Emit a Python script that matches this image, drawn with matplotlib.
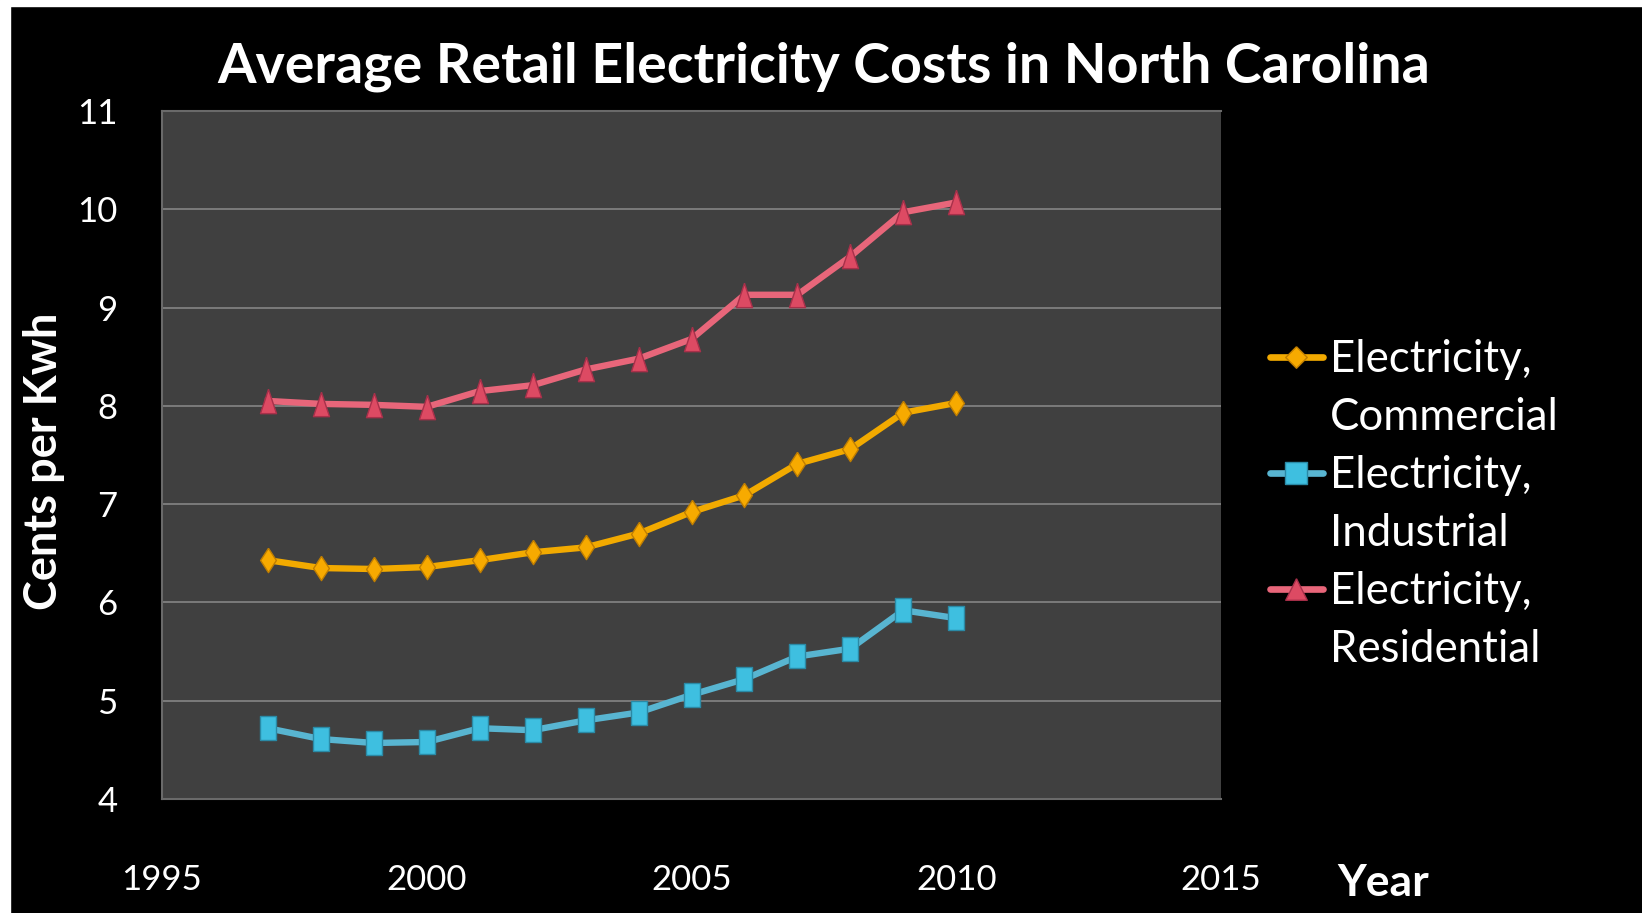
import matplotlib
matplotlib.use("Agg")
import matplotlib.pyplot as plt
from matplotlib.lines import Line2D
from matplotlib.patches import Rectangle

plt.rcParams['font.family'] = ['Lato', 'DejaVu Sans']

# data (cents per kWh)
years = [1997, 1998, 1999, 2000, 2001, 2002, 2003, 2004, 2005, 2006, 2007, 2008, 2009, 2010]
commercial = [6.43, 6.35, 6.34, 6.36, 6.43, 6.51, 6.56, 6.70, 6.92, 7.09, 7.41, 7.56, 7.93, 8.03]
industrial = [4.72, 4.61, 4.57, 4.58, 4.72, 4.70, 4.80, 4.88, 5.06, 5.22, 5.45, 5.53, 5.92, 5.84]
residential = [8.05, 8.02, 8.01, 7.99, 8.15, 8.21, 8.37, 8.48, 8.68, 9.13, 9.13, 9.52, 9.97, 10.07]

labels = [("Electricity,", "Commercial"), ("Electricity,", "Industrial"), ("Electricity,", "Residential")]
xticks = [1995, 2000, 2005, 2010, 2015]
yticks = [4, 5, 6, 7, 8, 9, 10, 11]

W, H = 1642, 913

# narrow marker shapes used in the plot area
diamond = [(0, 1), (0.65, 0), (0, -1), (-0.65, 0), (0, 1)]
square = [(-0.62, -1), (0.62, -1), (0.62, 1), (-0.62, 1), (-0.62, -1)]
triangle = [(0, 1), (0.66, -1), (-0.66, -1), (0, 1)]
# regular ones for the legend
diamond_l = [(0, 1), (1, 0), (0, -1), (-1, 0), (0, 1)]
square_l = [(-1, -1), (1, -1), (1, 1), (-1, 1), (-1, -1)]
triangle_l = [(0, 1), (1, -1), (-1, -1), (0, 1)]

series = [
    (commercial, "#F2AA00", "#F7AA00", "#C07E00", diamond, diamond_l),
    (industrial, "#58B5D1", "#3EBFE0", "#2A8AA6", square, square_l),
    (residential, "#E8667A", "#DD4A63", "#A8304A", triangle, triangle_l),
]

fig = plt.figure(figsize=(W / 100, H / 100), dpi=100, facecolor="black")
ax = fig.add_axes([162 / W, 1 - 799 / H, (1221 - 162) / W, (799 - 111) / H])
ax.set_facecolor("#404040")

for vals, lc, mfc, mec, mk, _ in series:
    ax.plot(years, vals, color=lc, lw=4.6, marker=mk, markersize=17.5,
            markerfacecolor=mfc, markeredgecolor=mec, markeredgewidth=1.0,
            solid_joinstyle="round", zorder=3)

ax.set_xlim(1995, 2015)
ax.set_ylim(4, 11)
ax.set_xticks(xticks)
ax.set_yticks(yticks)
ax.yaxis.grid(True, color="#858585", lw=1.2)
ax.set_axisbelow(True)
ax.tick_params(length=0, colors="white", labelsize=25)
ax.tick_params(axis="y", pad=32)
ax.tick_params(axis="x", pad=47)
for s in ["top", "left", "bottom"]:
    ax.spines[s].set_color("#6a6a6a")
    ax.spines[s].set_linewidth(1.5)
ax.spines["right"].set_visible(False)

fig.text(824 / W, 1 - 82 / H, "Average Retail Electricity Costs in North Carolina",
         color="white", fontsize=40, fontweight="bold", ha="center", va="baseline")
fig.text(44 / W, 1 - 461 / H, "Cents per Kwh", color="white", fontsize=32.5,
         fontweight="bold", rotation=90, ha="center", va="center")
fig.text(1383 / W, 1 - 883 / H, "Year", color="white", fontsize=32,
         fontweight="bold", ha="center", va="center")

# legend drawn by hand so the key sits on the first text line
for i, ((l1, l2), (vals, lc, mfc, mec, mk, mkl)) in enumerate(zip(labels, series)):
    yb = 372 + i * 116
    ym = 1 - (yb - 15) / H
    fig.add_artist(Line2D([1270 / W, 1323 / W], [ym, ym], transform=fig.transFigure,
                          color=lc, lw=4.8, solid_capstyle="round"))
    fig.add_artist(Line2D([1296 / W], [ym], transform=fig.transFigure, marker=mkl,
                          markersize=15.5, markerfacecolor=mfc, markeredgecolor=mec,
                          markeredgewidth=1.0))
    fig.text(1330 / W, 1 - yb / H, l1, color="white", fontsize=31.5, va="baseline")
    fig.text(1330 / W, 1 - (yb + 58) / H, l2, color="white", fontsize=31.5, va="baseline")

# white strips along top and left edge of the screenshot
fig.patches.append(Rectangle((0, 1 - 6 / H), 1, 6 / H, transform=fig.transFigure,
                             color="white", zorder=10))
fig.patches.append(Rectangle((0, 0), 10 / W, 1, transform=fig.transFigure,
                             color="white", zorder=10))

fig.savefig("out.png", dpi=100, facecolor="black")
